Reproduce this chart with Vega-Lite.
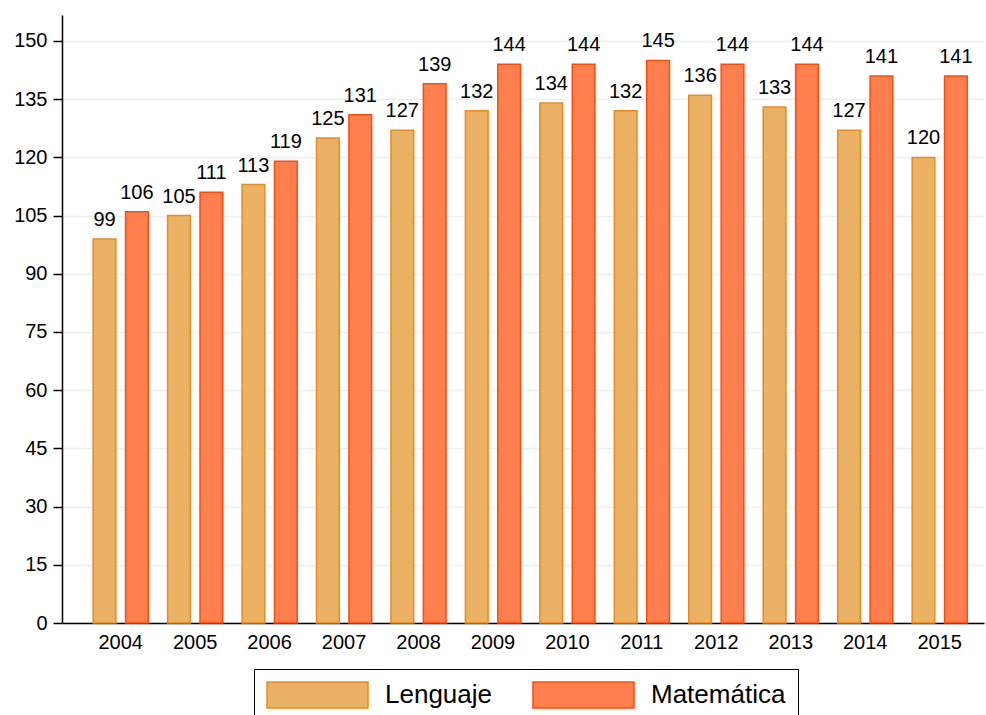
{
  "$schema": "https://vega.github.io/schema/vega-lite/v6.json",
  "autosize": "none",
  "padding": {"left": 62, "top": 15, "right": 2, "bottom": 92},
  "width": 922,
  "height": 608,
  "config": {
    "font": "Liberation Sans",
    "view": {"stroke": null},
    "axis": {"labelFontSize": 20, "labelColor": "black", "title": null, "domainColor": "black", "domainWidth": 1.5, "labelFont": "Liberation Sans"}
  },
  "data": {
    "values": [
      {"year": "2004", "series": "Lenguaje", "value": 99},
      {"year": "2005", "series": "Lenguaje", "value": 105},
      {"year": "2006", "series": "Lenguaje", "value": 113},
      {"year": "2007", "series": "Lenguaje", "value": 125},
      {"year": "2008", "series": "Lenguaje", "value": 127},
      {"year": "2009", "series": "Lenguaje", "value": 132},
      {"year": "2010", "series": "Lenguaje", "value": 134},
      {"year": "2011", "series": "Lenguaje", "value": 132},
      {"year": "2012", "series": "Lenguaje", "value": 136},
      {"year": "2013", "series": "Lenguaje", "value": 133},
      {"year": "2014", "series": "Lenguaje", "value": 127},
      {"year": "2015", "series": "Lenguaje", "value": 120},
      {"year": "2004", "series": "Matemática", "value": 106},
      {"year": "2005", "series": "Matemática", "value": 111},
      {"year": "2006", "series": "Matemática", "value": 119},
      {"year": "2007", "series": "Matemática", "value": 131},
      {"year": "2008", "series": "Matemática", "value": 139},
      {"year": "2009", "series": "Matemática", "value": 144},
      {"year": "2010", "series": "Matemática", "value": 144},
      {"year": "2011", "series": "Matemática", "value": 145},
      {"year": "2012", "series": "Matemática", "value": 144},
      {"year": "2013", "series": "Matemática", "value": 144},
      {"year": "2014", "series": "Matemática", "value": 141},
      {"year": "2015", "series": "Matemática", "value": 141}
    ]
  },
  "encoding": {
    "x": {
      "field": "year", "type": "nominal",
      "scale": {"paddingInner": 0.26, "paddingOuter": 0.322, "align": 0.65},
      "axis": {"ticks": false, "labelPadding": 9, "labelAngle": 0, "grid": false}
    },
    "xOffset": {"field": "series", "type": "nominal", "sort": ["Lenguaje", "Matemática"], "scale": {"paddingInner": 0.3}},
    "y": {
      "field": "value", "type": "quantitative",
      "scale": {"domain": [0, 156.7], "nice": false, "zero": true},
      "axis": {"values": [0, 15, 30, 45, 60, 75, 90, 105, 120, 135, 150], "grid": true, "gridColor": "#e8f0f2", "gridWidth": 1.5, "tickSize": 9, "tickColor": "black", "tickWidth": 1.5, "labelPadding": 6}
    }
  },
  "layer": [
    {
      "mark": {"type": "bar", "strokeWidth": 1.5},
      "encoding": {
        "fill": {
          "field": "series", "type": "nominal",
          "scale": {"domain": ["Lenguaje", "Matemática"], "range": ["#ebb164", "#ff7f4f"]},
          "legend": {
            "orient": "none", "legendX": 192, "legendY": 654, "direction": "horizontal",
            "title": null, "strokeColor": "black", "fillColor": "white",
            "padding": 12,
            "symbolType": "M-1,-1H6.77V1H-1Z", "symbolSize": 676, "symbolStrokeWidth": 1.5,
            "labelFontSize": 26, "labelColor": "black", "labelOffset": 91, "columnPadding": 38
          }
        },
        "stroke": {
          "field": "series", "type": "nominal",
          "scale": {"domain": ["Lenguaje", "Matemática"], "range": ["#e98b1d", "#ff4a0a"]}
        }
      }
    },
    {
      "mark": {"type": "text", "dy": -9, "baseline": "bottom", "fontSize": 20, "color": "black"},
      "encoding": {"text": {"field": "value", "type": "quantitative"}}
    }
  ]
}
